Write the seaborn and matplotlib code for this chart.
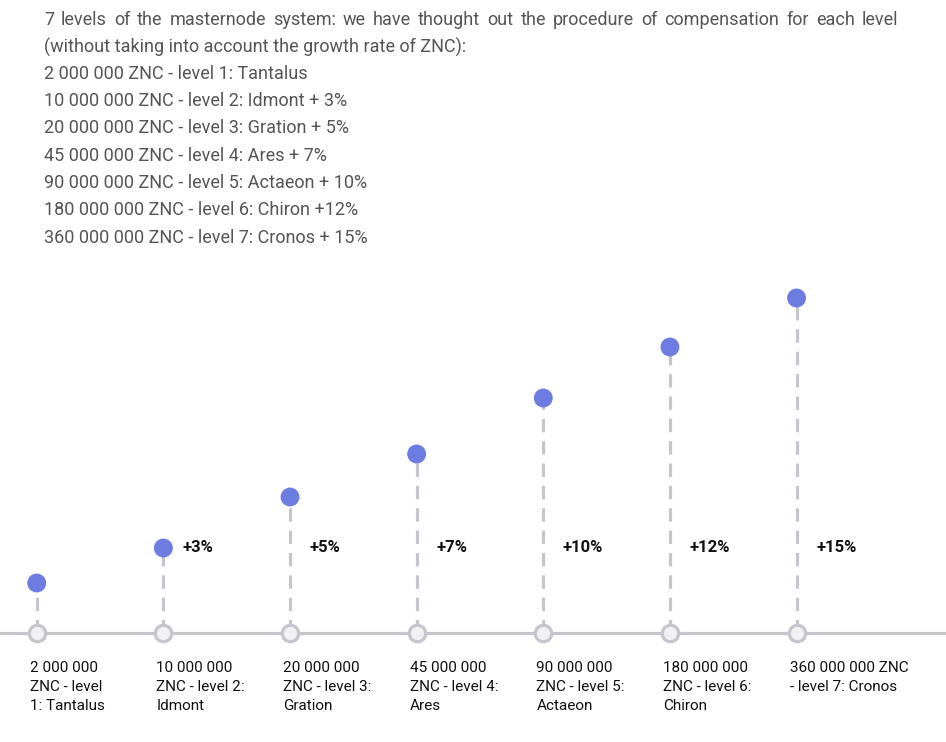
import matplotlib
matplotlib.use("Agg")
import matplotlib.pyplot as plt
import seaborn as sns
import numpy as np

# --- data ---
levels = [1, 2, 3, 4, 5, 6, 7]
stem_height = [50, 85, 136, 179, 235, 286, 335]   # height of each dot above the baseline
bonus = ["", "+3%", "+5%", "+7%", "+10%", "+12%", "+15%"]
level_labels = [
    "2 000 000\nZNC - level\n1: Tantalus",
    "10 000 000\nZNC - level 2:\nIdmont",
    "20 000 000\nZNC - level 3:\nGration",
    "45 000 000\nZNC - level 4:\nAres",
    "90 000 000\nZNC - level 5:\nActaeon",
    "180 000 000\nZNC - level 6:\nChiron",
    "360 000 000 ZNC\n- level 7: Cronos",
]
intro_lines = [
    "7 levels of the masternode system: we have thought out the procedure of compensation for each level",
    "(without taking into account the growth rate of ZNC):",
    "2 000 000 ZNC - level 1: Tantalus",
    "10 000 000 ZNC - level 2: Idmont + 3%",
    "20 000 000 ZNC - level 3: Gration + 5%",
    "45 000 000 ZNC - level 4: Ares + 7%",
    "90 000 000 ZNC - level 5: Actaeon + 10%",
    "180 000 000 ZNC - level 6: Chiron +12%",
    "360 000 000 ZNC - level 7: Cronos + 15%",
]

sns.set_style("white")
plt.rcParams['font.family'] = ['Roboto', 'DejaVu Sans']

GREY = '#c5c5cd'
DOT = '#6c7ce0'

fig = plt.figure(figsize=(9.46, 7.42), dpi=100)
ax = fig.add_axes([0, 0, 1, 1])
x = np.arange(len(levels))
ax.set_xlim(-0.29, 7.18)
ax.set_ylim(-109, 633)
ax.axis('off')

# baseline and dashed stems
ax.axhline(0, color=GREY, lw=2.3, zorder=1)
ax.vlines(x, 0, stem_height, color=GREY, lw=2.3, linestyles=(0, (4.2, 2.8)), zorder=1)

# dots on top and open circles on the baseline
sns.scatterplot(x=x, y=stem_height, s=185, color=DOT, edgecolor='none', ax=ax, zorder=3)
sns.scatterplot(x=x, y=np.zeros(len(x)), s=140, color='#f1f1f4', edgecolor=GREY,
                linewidth=2.3, ax=ax, zorder=3)

for i in x:
    if bonus[i]:
        ax.annotate(bonus[i], xy=(i, 86), xytext=(14, 0), textcoords='offset points',
                    ha='left', va='center', fontsize=12, fontweight='bold', color='#111111')
    ax.annotate(level_labels[i], xy=(i, 0), xytext=(-5, -20), textcoords='offset points',
                ha='left', va='top', fontsize=11, color='#111111', linespacing=1.45)

# intro paragraph, first line justified
left_px, right_px = 44, 898
tops = [20, 47, 74, 101, 128, 156, 183, 210, 238]
fig.canvas.draw()
renderer = fig.canvas.get_renderer()
for k, line in enumerate(intro_lines):
    y = 1 - tops[k] / 742
    if k == 0:
        words = line.split(' ')
        texts = [fig.text(0, y, w, fontsize=13, color='#555555', va='center') for w in words]
        widths = [t.get_window_extent(renderer).width for t in texts]
        gap = (right_px - left_px - sum(widths)) / (len(words) - 1)
        pos = left_px
        for t, w in zip(texts, widths):
            t.set_x(pos / 946)
            pos += w + gap
    else:
        fig.text(left_px / 946, y, line, fontsize=13, color='#555555', va='center')

fig.savefig('out.png', dpi=100)
